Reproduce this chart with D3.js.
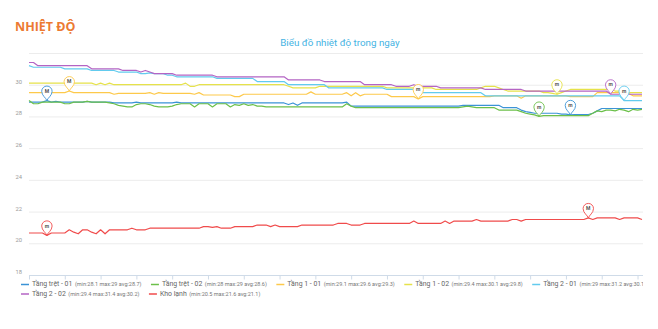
<!DOCTYPE html>
<html>
<head>
<meta charset="utf-8">
<script src="https://cdn.jsdelivr.net/npm/d3@7"></script>
<style>
html,body{margin:0;padding:0;background:#fff;}
svg{display:block;font-family:Roboto,"Open Sans",sans-serif;}
</style>
</head>
<body>
<svg id="chart" width="658" height="329"></svg>
<script>
// ---------- DATA ----------
const pageTitle = "NHIỆT ĐỘ";
const chartTitle = "Biểu đồ nhiệt độ trong ngày";
const yTicks = [18, 20, 22, 24, 26, 28, 30];
const yGrid = [18, 20, 22, 24, 26, 28, 30, 32];
const seriesNames = ["Tầng trệt - 01", "Tầng trệt - 02", "Tầng 1 - 01", "Tầng 1 - 02", "Tầng 2 - 01", "Tầng 2 - 02", "Kho lạnh"];
const seriesStats = ["(min:28.1 max:29 avg:28.7)", "(min:28 max:29 avg:28.6)", "(min:29.1 max:29.6 avg:29.3)", "(min:29.4 max:30.1 avg:29.8)", "(min:29 max:31.2 avg:30.1)", "(min:29.4 max:31.4 avg:30.2)", "(min:20.5 max:21.6 avg:21.1)"];

const tangTret01 = [28.9,28.9,28.9,28.9,29.0,28.9,28.95,28.9,28.9,28.9,28.9,28.9,28.9,28.95,28.9,28.9,28.9,28.9,28.9,28.85,
28.85,28.85,28.85,28.85,28.9,28.85,28.85,28.85,28.85,28.85,28.85,28.85,28.85,28.9,28.85,28.85,28.85,28.85,28.85,28.85,
28.85,28.85,28.85,28.85,28.85,28.85,28.85,28.85,28.85,28.85,28.85,28.85,28.85,28.85,28.85,28.85,28.85,28.85,28.75,28.85,
28.7,28.85,28.85,28.85,28.85,28.85,28.85,28.85,28.85,28.85,28.85,28.9,28.65,28.65,28.65,28.65,28.65,28.65,28.65,28.65,
28.65,28.65,28.65,28.65,28.65,28.65,28.65,28.65,28.65,28.65,28.65,28.65,28.65,28.65,28.65,28.65,28.65,28.7,28.7,28.7,
28.7,28.7,28.7,28.7,28.7,28.7,28.55,28.55,28.55,28.55,28.4,28.3,28.25,28.2,28.2,28.2,28.2,28.2,28.2,28.15,
28.15,28.1,28.12,28.12,28.12,28.12,28.2,28.35,28.5,28.5,28.5,28.5,28.5,28.5,28.5,28.5,28.5,28.5];

const tangTret02 = [29.0,28.8,28.8,28.9,28.9,28.9,28.9,28.9,28.8,28.8,28.9,28.9,28.9,28.95,28.9,28.9,28.9,28.9,28.85,28.8,
28.7,28.65,28.6,28.6,28.75,28.8,28.8,28.75,28.65,28.6,28.6,28.6,28.65,28.75,28.8,28.8,28.8,28.6,28.8,28.8,
28.8,28.6,28.8,28.8,28.8,28.6,28.75,28.7,28.8,28.7,28.75,28.65,28.65,28.6,28.6,28.6,28.6,28.6,28.6,28.6,
28.6,28.6,28.6,28.6,28.6,28.6,28.6,28.6,28.6,28.6,28.6,28.8,28.65,28.55,28.55,28.55,28.55,28.55,28.55,28.55,
28.55,28.55,28.55,28.55,28.55,28.55,28.55,28.55,28.55,28.55,28.55,28.55,28.55,28.55,28.55,28.55,28.55,28.6,28.65,28.6,
28.55,28.55,28.55,28.55,28.55,28.4,28.4,28.4,28.4,28.4,28.3,28.2,28.15,28.1,28.0,28.05,28.05,28.05,28.05,28.05,
28.05,28.05,28.05,28.05,28.05,28.05,28.2,28.35,28.3,28.4,28.4,28.35,28.45,28.4,28.3,28.45,28.4,28.45];

const tang1_01 = [29.5,29.5,29.5,29.5,29.5,29.5,29.5,29.5,29.5,29.6,29.5,29.5,29.5,29.5,29.5,29.5,29.5,29.5,29.5,29.4,
29.45,29.45,29.45,29.45,29.45,29.45,29.45,29.5,29.4,29.5,29.45,29.45,29.45,29.45,29.45,29.45,29.45,29.4,29.5,29.35,
29.35,29.35,29.35,29.35,29.35,29.35,29.25,29.25,29.4,29.4,29.4,29.4,29.4,29.4,29.4,29.4,29.4,29.4,29.4,29.4,
29.4,29.4,29.4,29.55,29.4,29.4,29.4,29.4,29.4,29.4,29.4,29.5,29.3,29.5,29.3,29.4,29.4,29.4,29.4,29.4,
29.4,29.25,29.25,29.25,29.25,29.25,29.25,29.1,29.25,29.25,29.25,29.25,29.25,29.25,29.25,29.25,29.25,29.25,29.25,29.25,
29.25,29.25,29.25,29.25,29.3,29.3,29.3,29.3,29.3,29.3,29.15,29.3,29.3,29.3,29.3,29.3,29.3,29.3,29.3,29.3,
29.3,29.25,29.25,29.25,29.25,29.25,29.25,29.5,29.5,29.5,29.5,29.5,29.5,29.45,29.45,29.3,29.3,29.3];

const tang1_02 = [30.1,30.1,30.1,30.1,30.1,30.1,30.1,30.1,30.1,30.1,30.1,30.1,30.1,30.1,30.1,30.0,30.1,30.0,30.1,30.0,
30.0,30.0,30.0,30.0,30.0,30.0,30.0,30.0,30.0,30.0,30.0,30.0,30.0,30.0,30.0,30.1,29.9,29.9,30.0,30.0,
30.0,30.0,30.0,30.0,30.0,30.0,30.0,30.0,30.0,30.0,30.0,30.0,30.0,30.0,30.0,30.0,30.0,30.0,29.9,29.8,
29.8,29.8,29.8,29.8,29.8,29.9,29.9,29.9,29.9,29.9,29.9,29.9,29.9,29.9,29.9,29.9,29.9,29.9,29.9,29.9,
29.8,29.8,29.8,29.8,29.8,29.8,29.8,29.8,29.8,29.8,29.8,29.7,29.7,29.7,29.7,29.7,29.7,29.7,29.7,29.7,
29.7,29.8,29.9,29.9,29.9,29.8,29.7,29.6,29.6,29.6,29.6,29.6,29.6,29.6,29.6,29.5,29.5,29.45,29.4,29.5,
29.6,29.7,29.7,29.7,29.7,29.7,29.7,29.7,29.7,29.7,29.7,29.6,29.6,29.6,29.5,29.5,29.5,29.5];

const tang2_01 = [31.2,31.1,31.1,31.1,31.1,31.1,31.1,31.1,31.0,31.0,31.0,31.0,31.0,31.0,30.9,30.9,30.9,30.9,30.9,30.9,
30.8,30.8,30.8,30.8,30.8,30.7,30.7,30.75,30.7,30.7,30.7,30.6,30.6,30.5,30.5,30.5,30.5,30.5,30.5,30.5,
30.5,30.5,30.4,30.4,30.4,30.4,30.4,30.4,30.4,30.4,30.4,30.2,30.2,30.2,30.2,30.2,30.2,30.2,30.0,30.0,
30.0,30.0,30.0,30.0,30.0,30.0,30.0,29.8,29.8,29.8,29.8,29.8,29.8,29.8,29.8,29.8,29.8,29.8,29.8,29.8,
29.7,29.7,29.7,29.7,29.7,29.7,29.7,29.7,29.5,29.5,29.5,29.5,29.5,29.5,29.5,29.5,29.5,29.5,29.5,29.5,
29.5,29.5,29.3,29.3,29.3,29.3,29.3,29.3,29.3,29.3,29.3,29.3,29.3,29.3,29.3,29.3,29.3,29.3,29.3,29.3,
29.3,29.3,29.3,29.3,29.3,29.3,29.3,29.3,29.3,29.3,29.3,29.3,29.3,29.0,29.0,29.0,29.0,29.0];

const tang2_02 = [31.4,31.4,31.2,31.2,31.2,31.2,31.2,31.2,31.2,31.2,31.2,31.2,31.2,31.2,31.0,31.0,31.0,31.0,31.0,31.0,
31.0,30.9,30.9,30.9,30.9,30.8,30.9,30.8,30.7,30.7,30.7,30.7,30.7,30.6,30.6,30.6,30.6,30.6,30.6,30.6,
30.6,30.6,30.5,30.5,30.5,30.5,30.5,30.5,30.5,30.5,30.5,30.5,30.5,30.5,30.5,30.5,30.5,30.5,30.3,30.3,
30.3,30.3,30.3,30.3,30.3,30.3,30.2,30.2,30.2,30.2,30.2,30.2,30.2,30.2,30.2,30.0,30.0,30.0,30.0,30.0,
30.0,30.0,29.9,29.9,29.9,29.9,30.0,29.9,29.9,29.9,29.9,29.9,29.8,29.8,29.8,29.8,29.8,29.8,29.8,29.8,
29.8,29.8,29.7,29.7,29.7,29.7,29.7,29.7,29.7,29.7,29.7,29.6,29.6,29.6,29.6,29.6,29.6,29.6,29.6,29.6,
29.6,29.6,29.6,29.6,29.6,29.6,29.6,29.6,29.6,29.6,29.4,29.4,29.4,29.4,29.4,29.4,29.4,29.4];

const khoLanh = [20.65,20.65,20.65,20.65,20.5,20.65,20.65,20.65,20.65,20.85,20.7,20.6,20.85,20.85,20.7,20.6,20.85,20.6,20.85,20.85,
20.85,20.85,20.85,20.95,20.85,20.85,20.85,20.95,20.95,20.95,20.95,20.95,20.95,20.95,20.95,20.95,20.95,20.95,20.95,21.05,
21.05,21.0,21.05,20.95,20.95,20.95,21.05,21.05,21.05,21.05,21.05,21.15,21.15,21.15,21.05,21.15,21.05,21.05,21.05,21.05,
21.05,21.15,21.15,21.15,21.15,21.15,21.15,21.15,21.15,21.25,21.25,21.25,21.15,21.15,21.15,21.25,21.25,21.25,21.25,21.25,
21.25,21.25,21.25,21.25,21.25,21.25,21.4,21.25,21.25,21.25,21.25,21.25,21.25,21.4,21.25,21.4,21.4,21.4,21.4,21.4,
21.5,21.4,21.4,21.4,21.4,21.4,21.4,21.4,21.5,21.5,21.4,21.5,21.5,21.5,21.5,21.5,21.5,21.5,21.5,21.5,
21.5,21.5,21.5,21.5,21.5,21.6,21.5,21.6,21.6,21.6,21.6,21.6,21.5,21.6,21.6,21.6,21.6,21.5];

const seriesValues = [tangTret01, tangTret02, tang1_01, tang1_02, tang2_01, tang2_02, khoLanh];
const seriesColors = ["#3b93d6", "#6cc04a", "#fdc94b", "#e6e24a", "#62cbee", "#b464c4", "#f04b4b"];
// visible markPoints: [series index, "min"/"max"]
const markers = [[0,"max"],[0,"min"],[1,"min"],[2,"max"],[2,"min"],[3,"min"],[4,"min"],[5,"min"],[6,"min"],[6,"max"]];
const tickEvery = 8;

// ---------- CHART ----------
const svg = d3.select("#chart");
const N = tangTret01.length;
const idx = d3.range(N);
const x = d3.scaleLinear().domain([0, N - 1]).range([29, 642]);
const y = d3.scaleLinear().domain([18, 32]).range([275, 53]);

svg.append("text").attr("x", 15).attr("y", 30.5)
  .attr("font-family", "'Open Sans',sans-serif").attr("font-weight", 700).attr("font-size", 12.5)
  .attr("fill", "#ec7a32").text(pageTitle);
svg.append("text").attr("x", 340).attr("y", 45.5).attr("text-anchor", "middle")
  .attr("font-size", 9.8).attr("fill", "#45b3e3").text(chartTitle);

// grid
svg.append("g").selectAll("line").data(yGrid.filter(v => v > 18)).join("line")
  .attr("x1", 29).attr("x2", 643).attr("y1", d => y(d) + 0.5).attr("y2", d => y(d) + 0.5)
  .attr("stroke", "#ececec").attr("stroke-width", 1);

// y labels
svg.append("g").selectAll("text").data(yTicks).join("text")
  .attr("x", 22).attr("y", d => y(d) - 2.5).attr("text-anchor", "end")
  .attr("dominant-baseline", "middle").attr("font-size", 5.8).attr("fill", "#9a9a9a").text(d => d);

// x axis
const xAxis = d3.axisBottom(x).tickValues(idx.filter(i => i % tickEvery === 0)).tickFormat("").tickSize(4).tickSizeOuter(0);
const gx = svg.append("g").attr("transform", "translate(0,275.5)").call(xAxis);
gx.select(".domain").attr("stroke", "#cfdbe8").attr("d", "M29,0H643");
gx.selectAll(".tick line").attr("stroke", "#cfdbe8");

// lines
const line = d3.line().x((d, i) => x(i)).y(d => y(d));
svg.append("g").selectAll("path").data(seriesValues).join("path")
  .attr("d", d => line(d)).attr("fill", "none")
  .attr("stroke", (d, i) => seriesColors[i]).attr("stroke-width", 1.2)
  .attr("stroke-linejoin", "round");

// markers (pins)
const pinPath = "M0,0 C-0.8,-2.6 -5.2,-5 -5.2,-9.3 A5.2,5.2 0 1 1 5.2,-9.3 C5.2,-5 0.8,-2.6 0,0 Z";
const mg = svg.append("g");
markers.forEach(([s, type]) => {
  const vals = seriesValues[s];
  const i = type === "min" ? d3.minIndex(vals) : d3.maxIndex(vals);
  const g = mg.append("g").attr("transform", `translate(${x(i)},${y(vals[i])})`);
  g.append("path").attr("d", pinPath).attr("fill", "#fff").attr("fill-opacity", 0.95)
    .attr("stroke", seriesColors[s]).attr("stroke-width", 0.9);
  g.append("text").attr("x", 0).attr("y", -9.1).attr("text-anchor", "middle")
    .attr("dominant-baseline", "middle").attr("font-size", 5).attr("font-weight", 700)
    .attr("fill", "#555").text(type === "min" ? "m" : "M");
});

// legend (flow layout)
const clip = svg.append("defs").append("clipPath").attr("id", "lgclip");
clip.append("rect").attr("x", 0).attr("y", 270).attr("width", 643).attr("height", 40);
const lg = svg.append("g").attr("clip-path", "url(#lgclip)");
const rows = [[0,1,2,3,4],[5,6]];
const rowY = [284.5, 294];
rows.forEach((row, r) => {
  let cx = 21;
  row.forEach(s => {
    const yy = rowY[r];
    lg.append("line").attr("x1", cx).attr("x2", cx + 8).attr("y1", yy).attr("y2", yy)
      .attr("stroke", seriesColors[s]).attr("stroke-width", 1.5);
    cx += 11;
    const t1 = lg.append("text").attr("x", cx).attr("y", yy).attr("dominant-baseline", "middle")
      .attr("font-size", 6.9).attr("fill", "#666").text(seriesNames[s]);
    cx += t1.node().getComputedTextLength() + 2.5;
    const t2 = lg.append("text").attr("x", cx).attr("y", yy + 0.3).attr("dominant-baseline", "middle")
      .attr("font-size", 5.5).attr("fill", "#777").text(seriesStats[s]);
    cx += t2.node().getComputedTextLength() + 9.5;
  });
});
</script>
</body>
</html>
